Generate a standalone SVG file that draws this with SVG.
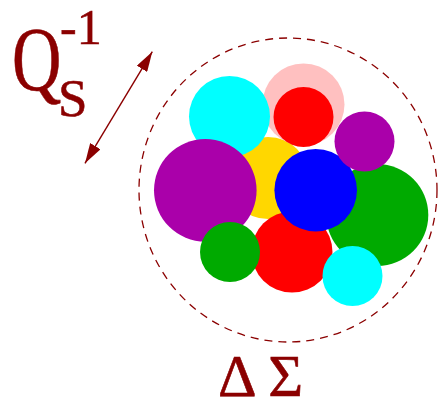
<svg xmlns="http://www.w3.org/2000/svg" width="438" height="400" viewBox="0 0 438 400">
<defs>
<style>
.lbl{font-family:"Liberation Serif","Times New Roman",serif;fill:#8b0000;stroke:#8b0000;stroke-width:0.6}
.conn{stroke:#8b0000;stroke-width:1.4;fill:none}
</style>
<marker id="ah" viewBox="0 0 20 12" refX="20" refY="6" markerWidth="20" markerHeight="12" markerUnits="userSpaceOnUse" orient="auto-start-reverse">
<path d="M0,0 L20,6 L0,12 z" fill="#8b0000"/>
</marker>
</defs>
<rect width="438" height="400" fill="#fff"/>
<g id="boundary">
<ellipse cx="288" cy="190" rx="149" ry="152" fill="none" stroke="#8b0000" stroke-width="1.3" stroke-dasharray="8,6"/>
</g>
<g id="particles">
<circle id="yellow" cx="268" cy="178" r="41" fill="#ffd700"/>
<circle id="red-bottom" cx="292" cy="252" r="40.5" fill="#ff0000"/>
<circle id="pink" cx="303.5" cy="104.5" r="41" fill="#ffc0c0"/>
<circle id="red-top" cx="303.5" cy="117" r="30" fill="#ff0000"/>
<circle id="cyan-top" cx="229.5" cy="116.5" r="40.5" fill="#00ffff"/>
<circle id="purple-big" cx="205.3" cy="190.3" r="51.3" fill="#aa00aa"/>
<circle id="green-big" cx="377.3" cy="215" r="51" fill="#00aa00"/>
<circle id="blue" cx="315.7" cy="190.2" r="41.3" fill="#0000ff"/>
<circle id="purple-small" cx="364.5" cy="141.5" r="30" fill="#aa00aa"/>
<circle id="green-small" cx="230" cy="252" r="30" fill="#00aa00"/>
<circle id="cyan-small" cx="352.5" cy="276" r="30" fill="#00ffff"/>
</g>
<g id="connectors">
<line class="conn" x1="85" y1="163.3" x2="152.3" y2="51.7" marker-start="url(#ah)" marker-end="url(#ah)"/>
</g>
<g id="label-q">
<text class="lbl" x="12" y="90" font-size="90" transform="translate(12,0) scale(0.76,1) translate(-12,0)">Q</text>
<text class="lbl" x="58" y="116" font-size="53">S</text>
<text class="lbl" x="60" y="44" font-size="50">-1</text>
</g>
<g id="label-ds">
<text class="lbl" x="218" y="396" font-size="60">Δ Σ</text>
</g>
</svg>
